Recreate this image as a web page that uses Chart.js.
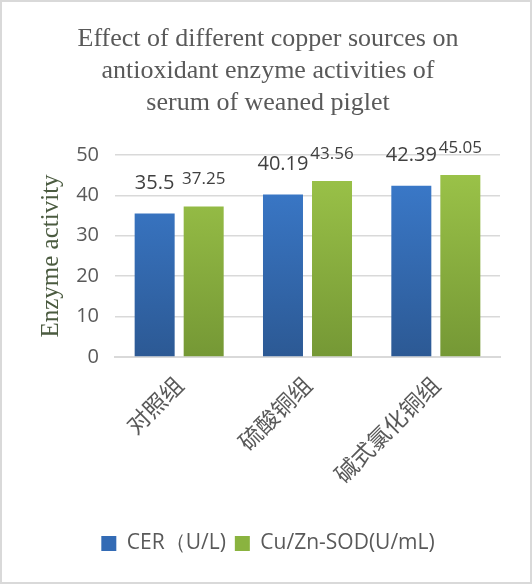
<!DOCTYPE html>
<html>
<head>
<meta charset="utf-8">
<script src="https://cdn.jsdelivr.net/npm/chart.js@4"></script>
<style>
  html, body { margin: 0; padding: 0; background: #fff; }
  #wrap { width: 532px; height: 584px; }
</style>
</head>
<body>
<div id="wrap"><canvas id="myChart" width="532" height="584"></canvas></div>
<script>
const categories = ['对照组', '硫酸铜组', '碱式氯化铜组'];
const cerValues = [35.5, 40.19, 42.39];
const sodValues = [37.25, 43.56, 45.05];
const seriesNames = ['CER（U/L)', 'Cu/Zn-SOD(U/mL)'];
const titleLines = ['Effect of different copper sources on', 'antioxidant enzyme activities of', 'serum of weaned piglet'];

function gradient(ctx, top, bottom) {
    const area = ctx.chart.chartArea;
    if (!area) return top;
    const g = ctx.chart.ctx.createLinearGradient(0, area.top, 0, area.bottom);
    g.addColorStop(0, top);
    g.addColorStop(1, bottom);
    return g;
}

// frame around the chart
const framePlugin = {
    id: 'frame',
    beforeDraw(chart) {
        const c = chart.ctx;
        c.save();
        c.fillStyle = '#fff';
        c.fillRect(0, 0, chart.width, chart.height);
        c.strokeStyle = '#d9d9d9';
        c.lineWidth = 2;
        c.strokeRect(1, 1, chart.width - 2, chart.height - 2);
        c.restore();
    }
};

// value labels above bars
const labelPlugin = {
    id: 'valueLabels',
    afterDatasetsDraw(chart) {
        const c = chart.ctx;
        c.save();
        c.fillStyle = '#404040';
        c.textAlign = 'center';
        c.textBaseline = 'middle';
        chart.data.datasets.forEach((ds, i) => {
            const meta = chart.getDatasetMeta(i);
            const size = i === 0 ? 20 : 17;
            const lift = i === 0 ? 30 : 27;
            c.font = size + 'px "Open Sans", sans-serif';
            meta.data.forEach((bar, j) => {
                c.fillText(String(ds.data[j]), bar.x, bar.y - lift);
            });
        });
        c.restore();
    }
};

const ctx = document.getElementById('myChart').getContext('2d');
const myChart = new Chart(ctx, {
    type: 'bar',
    data: {
        labels: categories,
        datasets: [{
            label: seriesNames[0],
            data: cerValues,
            backgroundColor: (c) => gradient(c, '#3c7dd0', '#2c5994'),
            categoryPercentage: 0.764,
            barPercentage: 0.816
        }, {
            label: seriesNames[1],
            data: sodValues,
            backgroundColor: (c) => gradient(c, '#9ec64a', '#759835'),
            categoryPercentage: 0.764,
            barPercentage: 0.816
        }]
    },
    plugins: [framePlugin, labelPlugin],
    options: {
        responsive: false,
        animation: false,
        layout: { padding: { left: 36, right: 32, top: 0, bottom: 20 } },
        plugins: {
            title: {
                display: true,
                text: titleLines,
                color: '#595959',
                font: { family: '"Liberation Serif", serif', size: 26, weight: 'normal', lineHeight: 1.23 },
                padding: { top: 23, bottom: 36 }
            },
            legend: {
                position: 'bottom',
                labels: {
                    color: '#595959',
                    font: { family: '"Open Sans", sans-serif', size: 21 },
                    boxWidth: 15,
                    boxHeight: 15,
                    padding: 9,
                    generateLabels(chart) {
                        return chart.data.datasets.map((ds, i) => ({
                            text: ds.label,
                            fillStyle: i === 0 ? '#336bb5' : '#8ab33f',
                            strokeStyle: 'transparent',
                            lineWidth: 0,
                            fontColor: '#595959',
                            datasetIndex: i
                        }));
                    }
                }
            },
            tooltip: { enabled: false }
        },
        scales: {
            x: {
                grid: { display: false },
                border: { color: '#d9d9d9', width: 2 },
                ticks: {
                    color: '#595959',
                    font: { family: '"Noto Sans CJK SC", sans-serif', size: 23 },
                    maxRotation: 45,
                    minRotation: 45,
                    padding: 6
                },
                afterFit(scale) { scale.height = 167; }
            },
            y: {
                min: 0,
                max: 50,
                ticks: {
                    stepSize: 10,
                    color: '#595959',
                    font: { family: '"Open Sans", sans-serif', size: 20 },
                    padding: 16
                },
                grid: { color: '#d9d9d9', lineWidth: 1.5, drawTicks: false },
                border: { display: false },
                title: {
                    display: true,
                    text: 'Enzyme activity',
                    color: '#4b5b40',
                    font: { family: '"Liberation Serif", serif', size: 25 },
                    padding: { top: 0, bottom: 0 }
                },
                afterFit(scale) { scale.width = 115 - 36; }
            }
        }
    }
});
</script>
</body>
</html>
